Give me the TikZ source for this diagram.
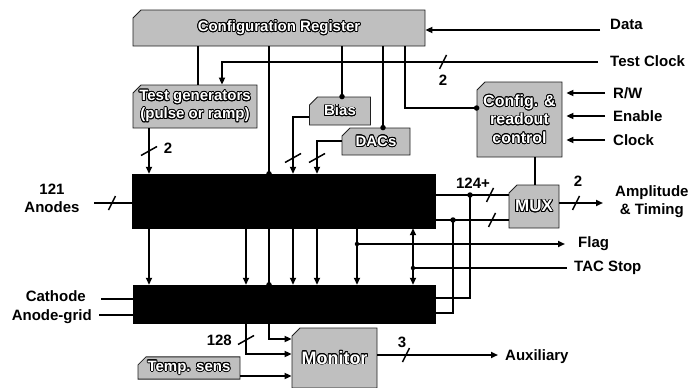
\documentclass[tikz,border=0pt]{standalone}
\usepackage{fontspec}
\setmainfont{Liberation Sans}
\usepackage{contour}
\contourlength{0.8pt}
\usetikzlibrary{shapes.misc,arrows.meta}
\newcommand\outl[1]{\contour{black}{#1}}
\tikzset{
 base/.style={line width=1.8pt},
 arr/.style={base,-{Triangle[length=7pt,width=6pt]}},
 darr/.style={base,{Triangle[length=7pt,width=6pt]}-{Triangle[length=7pt,width=6pt]}},
 slashline/.style={line width=1.5pt},
 gbox/.style={chamfered rectangle, chamfered rectangle corners=north west,
   chamfered rectangle xsep=4pt, chamfered rectangle ysep=4pt,
   fill=gray!50, draw=gray!25!black, line width=0.8pt, inner sep=0pt,
   align=center, text=white, font=\fontsize{15}{18}\selectfont\bfseries},
 bbox/.style={chamfered rectangle, chamfered rectangle corners={north west,south east},
   chamfered rectangle xsep=5pt, chamfered rectangle ysep=5pt,
   fill=black, draw=black, inner sep=0pt},
 lbl/.style={font=\fontsize{15}{17}\selectfont\bfseries, inner sep=0pt, align=center},
 dot/.style={circle, fill=black, inner sep=0pt, minimum size=5.5pt},
}
\begin{document}
\begin{tikzpicture}[x=1pt,y=-1pt]
\useasboundingbox (0,0) rectangle (691,388);
% blocks
\node[gbox, minimum width=292pt, minimum height=36pt] (cfg) at (279,28) {\outl{Configuration Register}};
\node[gbox, minimum width=124pt, minimum height=43pt] (tg) at (195,106.5) {\outl{Test generators}\\\outl{(pulse or ramp)}};
\node[gbox, minimum width=61pt, minimum height=28pt] (bias) at (340,111) {\outl{Bias}};
\node[gbox, minimum width=68pt, minimum height=27pt] (dacs) at (376,141.5) {\outl{DACs}};
\node[gbox, minimum width=85pt, minimum height=75pt, font=\fontsize{16}{18.5}\selectfont\bfseries] (crc) at (519.5,119.5) {\outl{Config. \&}\\\outl{readout}\\\outl{control}};
\node[gbox, minimum width=50pt, minimum height=43pt, font=\fontsize{17}{19}\selectfont\bfseries] (mux) at (534,206.5) {\outl{MUX}};
\node[bbox, minimum width=303pt, minimum height=54pt] (fe) at (283.5,201) {};
\node[bbox, minimum width=302pt, minimum height=38pt] (lo) at (284,304) {};
\node[gbox, minimum width=85pt, minimum height=60pt, font=\fontsize{18}{20}\selectfont\bfseries] (mon) at (334.5,358) {\outl{Monitor}};
\node[gbox, minimum width=102pt, minimum height=20pt] (ts) at (189,368) {\outl{Temp. sens}};
% columns
\coordinate (cA) at (149,0);
\coordinate (cB) at (198,0);
\coordinate (cC) at (222,0);
\coordinate (cD) at (246,0);
\coordinate (cE) at (269,0);
\coordinate (cF) at (293,0);
\coordinate (cG) at (317,0);
\coordinate (cH) at (342,0);
\coordinate (cI) at (383,0);
\coordinate (cJ) at (405,0);
\coordinate (cK) at (357,0);
\coordinate (cL) at (413,0);
\coordinate (cM) at (453,0);
\coordinate (cN) at (470,0);
\coordinate (cO) at (535,0);
% free ends
\coordinate (dIn) at (600,30);
\coordinate (tcIn) at (598,62);
\coordinate (rwIn) at (605,93);
\coordinate (enIn) at (605,116);
\coordinate (ckIn) at (605,140);
\coordinate (anIn) at (94,203);
\coordinate (caIn) at (101,299);
\coordinate (agIn) at (99,315);
\coordinate (ampOut) at (603,203);
\coordinate (flagOut) at (565,244);
\coordinate (tacOut) at (567,268);
\coordinate (auxOut) at (498,355);
% labels
\node[lbl, anchor=west] (lData) at (610,24) {Data};
\node[lbl, anchor=west] (lTC) at (610,61) {Test Clock};
\node[lbl, anchor=west] (lRW) at (613,93) {R/W};
\node[lbl, anchor=west] (lEn) at (613,116) {Enable};
\node[lbl, anchor=west] (lCk) at (613,140) {Clock};
\node[lbl, anchor=west] (lAmp) at (615,202) {Amplitude\\[1pt]\& Timing};
\node[lbl, anchor=west] (lFlag) at (578,244) {Flag};
\node[lbl, anchor=west] (lTAC) at (574,268) {TAC Stop};
\node[lbl, anchor=west] (lAux) at (505,357) {Auxiliary};
\node[lbl] (lAn) at (52,198) {121\\[1pt]Anodes};
\node[lbl, anchor=east] (lCa) at (86,296) {Cathode};
\node[lbl, anchor=east] (lAg) at (92,317) {Anode-grid};
\node[lbl] (l124) at (473,183) {124+};
\node[lbl] (l2a) at (443,80) {2};
\node[lbl] (l2b) at (168,148) {2};
\node[lbl] (l2c) at (578,181) {2};
\node[lbl] (l3) at (402,342) {3};
\node[lbl, anchor=east] (l128) at (232,340) {128};
% configuration register connections
\draw[arr] (dIn) -- (dIn -| cfg.east);
\draw[arr] (tcIn) -- (tcIn -| cC) -- (cC |- tg.north);
\draw[base] (cB |- cfg.south) -- (cB |- tg.north);
\draw[base] (cH |- cfg.south) -- (cH |- bias.north);
\node[dot] (d1) at (cH |- bias.north) {};
\draw[base] (cI |- cfg.south) -- (cI |- dacs.north);
\node[dot] (d2) at (cI |- dacs.north) {};
\draw[base] (cJ |- cfg.south) -- (405,108) -- (crc.west |- 0,108);
\node[dot] (d3) at (crc.west |- 0,108) {};
\draw[arr] (cE |- cfg.south) -- (269,339) -- (mon.west |- 0,339);
\node[dot] (d4) at (cE |- fe.north) {};
\node[dot] (d5) at (cE |- lo.north) {};
% config inputs
\draw[arr, shorten >=4pt] (rwIn) -- (rwIn -| crc.east);
\draw[arr, shorten >=4pt] (enIn) -- (enIn -| crc.east);
\draw[arr, shorten >=4pt] (ckIn) -- (ckIn -| crc.east);
% into front end
\draw[arr] (cA |- tg.south) -- (cA |- fe.north);
\draw[arr] (bias.west |- 0,117) -| (cF |- fe.north);
\draw[arr] (dacs.west |- 0,141) -| (cG |- fe.north);
\draw[base] (anIn) -- (anIn -| fe.west);
% front end to lower
\foreach \c in {cA,cD,cF,cG,cK}{\draw[arr] (\c |- fe.south) -- (\c |- lo.north);}
\draw[darr] (cL |- fe.south) -- (cL |- lo.north);
\node[dot, minimum size=4.5pt] (d6) at (357,244) {};
\draw[arr] (d6.center) -- (flagOut);
\node[dot, minimum size=4.5pt] (d7) at (413,268) {};
\draw[base] (d7.center) -- (tacOut);
\draw[base] (caIn) -- (caIn -| lo.west);
\draw[base] (agIn) -- (agIn -| lo.west);
% outputs to MUX
\draw[base] (fe.east |- 0,195) -- (mux.west |- 0,195);
\node[dot] (d8) at (cN |- 0,195) {};
\draw[base] (d8.center) -- (cN |- 0,298) -- (lo.east |- 0,298);
\draw[base] (fe.east |- 0,220) -- (mux.west |- 0,220);
\node[dot] (d9) at (cM |- 0,220) {};
\draw[base] (d9.center) -- (cM |- 0,313) -- (lo.east |- 0,313);
\draw[base] (cO |- crc.south) -- (cO |- mux.north);
\draw[arr] (mux.east |- 0,203) -- (ampOut);
% monitor
\draw[arr] (cD |- lo.south) -- (246,354) -- (mon.west |- 0,354);
\draw[arr] (ts.east |- 0,376) -- (mon.west |- 0,376);
\draw[arr] (mon.east |- 0,355) -- (auxOut);
% bus slashes
\draw[slashline] (443,62) ++(-3.5,7) -- ++(7,-14);
\draw[slashline] (112,203) ++(-3.5,7) -- ++(7,-14);
\draw[slashline] (490,195) ++(-3.5,7) -- ++(7,-14);
\draw[slashline] (492,220) ++(-3.5,7) -- ++(7,-14);
\draw[slashline] (576,203) ++(-3.5,7) -- ++(7,-14);
\draw[slashline] (406,355) ++(-3.5,7) -- ++(7,-14);
\draw[slashline] (149,151) ++(-8,4.5) -- ++(16,-9);
\draw[slashline] (293,158) ++(-8,4.5) -- ++(16,-9);
\draw[slashline] (317,158) ++(-8,4.5) -- ++(16,-9);
\draw[slashline] (246,340) ++(-8,4.5) -- ++(16,-9);
\end{tikzpicture}
\end{document}
